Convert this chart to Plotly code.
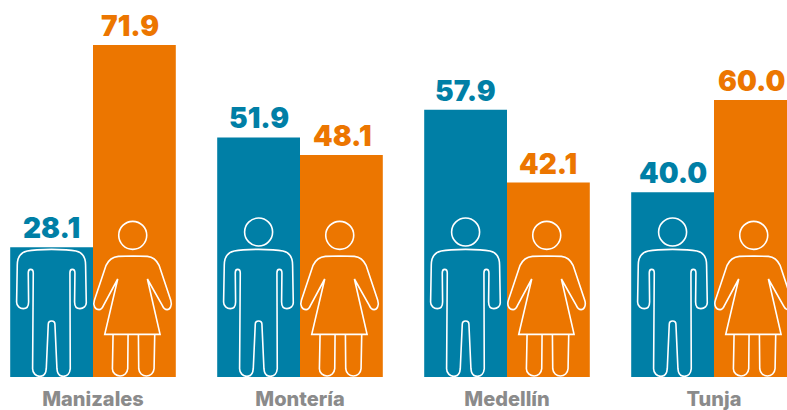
import plotly.graph_objects as go

cities = ["Manizales", "Montería", "Medellín", "Tunja"]
men = [28.1, 51.9, 57.9, 40.0]
women = [71.9, 48.1, 42.1, 60.0]

BLUE = "#007fa6"
ORANGE = "#ec7600"
GRAY = "#8b8b8b"
PX_PER_UNIT = 4.617
# horizontal nudge of the value labels, in pixels, as seen in the reference
men_label_nudge = [0, 0, 0, 0]
women_label_nudge = [-4, 1, 0, -4]

fig = go.Figure()
for name, vals, col in (("Hombres", men, BLUE), ("Mujeres", women, ORANGE)):
    fig.add_bar(
        x=list(range(len(cities))), y=vals, name=name, marker_color=col,
        marker_line_width=0,
    )

annotations = []
for vals, col, side, nudge in ((men, BLUE, -0.2, men_label_nudge),
                               (women, ORANGE, 0.2, women_label_nudge)):
    for i, v in enumerate(vals):
        annotations.append(dict(
            x=i + side, y=v, xref="x", yref="y", text=f"{v:.1f}",
            showarrow=False, xanchor="center", yanchor="bottom",
            xshift=nudge[i], yshift=2, borderpad=0, borderwidth=0,
            font=dict(family="Inter", size=28, color=col, weight=900),
        ))


def to_px(p, cx):
    return f"{(p[0] - cx) / 3:.2f},{(530 - p[1]) / 3:.2f}"


def path(segs, cx):
    """segs: start point, then each item is a line point or a 3-point curve."""
    out = "M" + to_px(segs[0], cx)
    for s in segs[1:]:
        if isinstance(s[0], tuple):
            out += " C" + " ".join(to_px(q, cx) for q in s)
        else:
            out += " L" + to_px(s, cx)
    return out


def circle(c, r, cx):
    k = 0.5523 * r
    x, y = c
    return path([
        (x - r, y),
        ((x - r, y - k), (x - k, y - r), (x, y - r)),
        ((x + k, y - r), (x + r, y - k), (x + r, y)),
        ((x + r, y + k), (x + k, y + r), (x, y + r)),
        ((x - k, y + r), (x - r, y + k), (x - r, y)),
    ], cx) + " Z"


MAN_CX = 145
man_head = circle((145, 95), 42, MAN_CX)
man_body = path([
    (145, 147),
    ((110, 147), (90, 148), (72, 152)),
    ((52, 156), (42, 172), (42, 195)),
    (40, 305),
    ((40, 318), (50, 325), (60, 325)),
    ((70, 325), (76, 318), (76, 305)),
    (75, 218),
    ((75, 210), (78, 207), (82, 207)),
    ((87, 207), (90, 210), (90, 218)),
    (88, 505),
    ((88, 518), (98, 528), (110, 528)),
    ((120, 528), (128, 520), (129, 505)),
    (135, 372),
    ((135, 365), (140, 362), (145, 362)),
    ((150, 362), (155, 365), (155, 372)),
    (161, 505),
    ((162, 520), (170, 528), (180, 528)),
    ((192, 528), (200, 518), (201, 505)),
    (200, 218),
    ((200, 210), (203, 207), (207, 207)),
    ((212, 207), (215, 210), (215, 218)),
    (214, 305),
    ((214, 318), (220, 325), (230, 325)),
    ((240, 325), (250, 318), (249, 305)),
    (247, 195),
    ((247, 172), (238, 156), (218, 152)),
    ((200, 148), (180, 147), (145, 147)),
], MAN_CX)

WOMAN_CX = 393
woman = [circle((388, 105), 42, WOMAN_CX), path([
    (388, 167),
    (345, 168),
    ((325, 170), (315, 180), (308, 195)),
    (273, 300),
    ((268, 315), (275, 328), (287, 328)),
    ((293, 328), (297, 323), (300, 316)),
    (343, 236),
    (304, 402),
    (470, 402),
    (432, 236),
    (477, 316),
    ((480, 323), (485, 328), (491, 328)),
    ((500, 328), (507, 315), (502, 300)),
    (467, 195),
    ((460, 180), (450, 170), (432, 168)),
    (388, 167),
], WOMAN_CX), path([
    (329, 402), (327, 505),
    ((327, 518), (338, 527), (350, 527)),
    ((362, 527), (372, 518), (373, 505)),
    (374, 402),
], WOMAN_CX), path([
    (405, 402), (406, 505),
    ((407, 518), (417, 527), (429, 527)),
    ((441, 527), (451, 518), (452, 505)),
    (454, 402),
], WOMAN_CX)]

shapes = []
for i in range(len(cities)):
    # The man's white head only shows where the bar reaches behind it.
    man_parts = [man_body] if men[i] < 30 else [man_head, man_body]
    for offset, parts in ((-0.2, man_parts), (0.2, woman)):
        for d in parts:
            shapes.append(dict(
                type="path", path=d, xref="x", yref="y",
                xsizemode="pixel", ysizemode="pixel",
                xanchor=i + offset, yanchor=0,
                line=dict(color="white", width=1.6), fillcolor="rgba(0,0,0,0)",
            ))

fig.update_layout(
    width=787, height=410, autosize=False,
    margin=dict(l=0, r=0, t=0, b=33),
    barmode="group", bargap=0.2, bargroupgap=0,
    showlegend=False, plot_bgcolor="white", paper_bgcolor="white",
    shapes=shapes, annotations=annotations,
    xaxis=dict(
        range=[-93 / 207, (787 - 93) / 207], tickmode="array",
        tickvals=list(range(len(cities))), ticktext=cities,
        showgrid=False, zeroline=False, showline=False, automargin=False,
        ticks="outside", ticklen=4, tickcolor="rgba(0,0,0,0)",
        tickfont=dict(family="Inter", size=20, color=GRAY, weight=800),
    ),
    yaxis=dict(range=[0, 377 / PX_PER_UNIT], visible=False, automargin=False),
)

fig.write_html(
    "out.html", config={"displayModeBar": False},
    post_script="document.body.style.margin='0';document.documentElement.style.overflow='hidden';",
)
